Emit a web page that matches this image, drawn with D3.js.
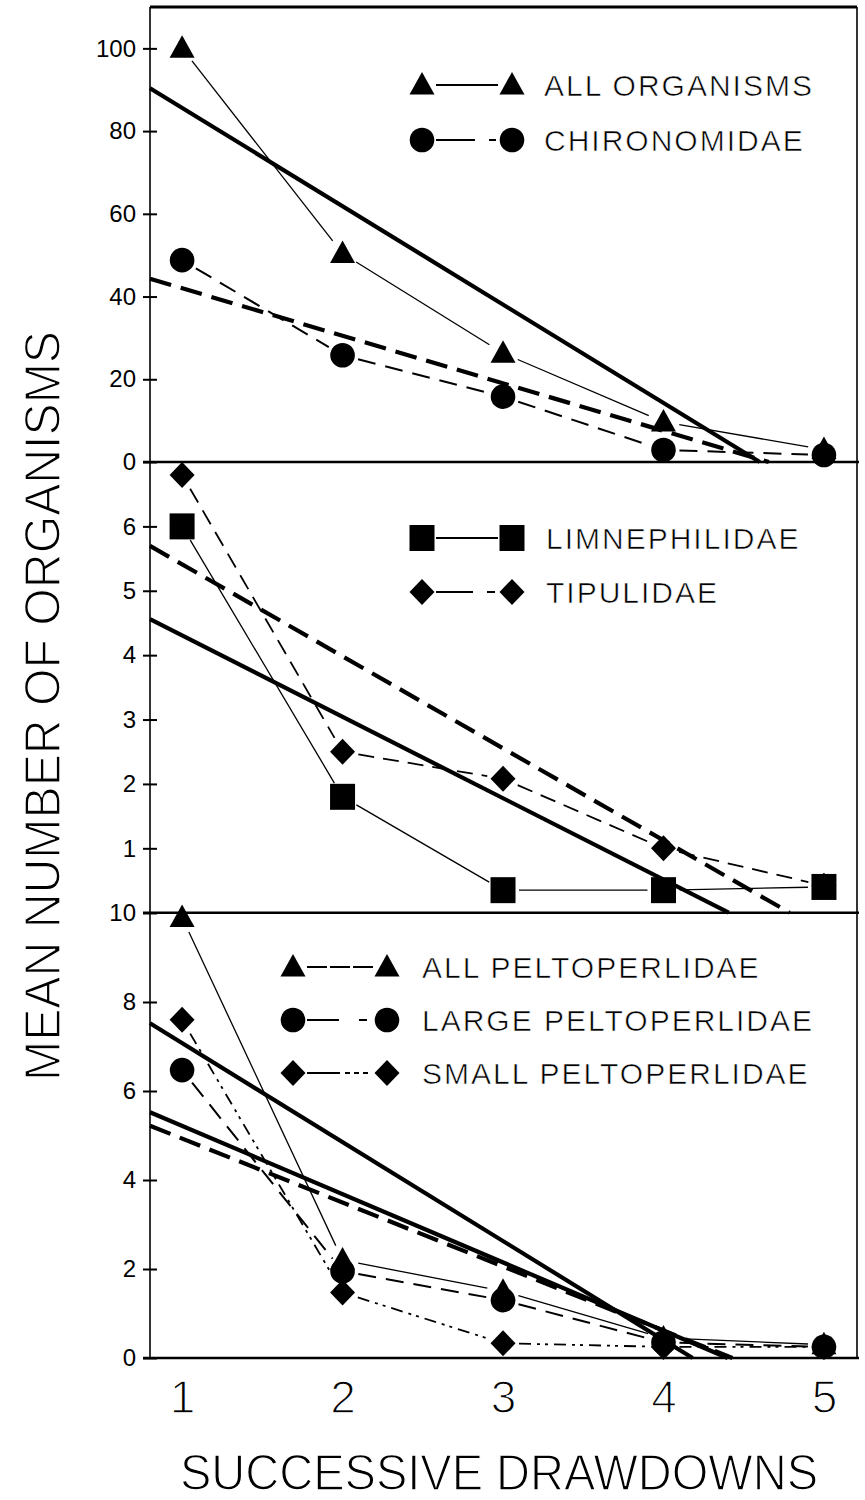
<!DOCTYPE html>
<html>
<head>
<meta charset="utf-8">
<script src="https://cdn.jsdelivr.net/npm/d3@7"></script>
<style>
  html, body { margin: 0; padding: 0; background: #fff; }
  svg { display: block; font-family: "Liberation Sans", Arial, sans-serif; }
</style>
</head>
<body>
<svg id="chart" width="865" height="1500"></svg>
<script>
// ---- data -------------------------------------------------------------
const drawdowns = [1, 2, 3, 4, 5];

// upper panel
const allOrganisms = [100, 50.4, 26.3, 9.7, 3.0];
const chironomidae = [48.8, 25.8, 15.8, 2.9, 1.7];
// middle panel
const limnephilidae = [6.0, 1.8, 0.35, 0.35, 0.4];
const tipulidae = [6.8, 2.5, 2.08, 1.0, 0.42];
// lower panel
const allPeltoperlidae = [9.9, 2.2, 1.5, 0.45, 0.3];
const largePeltoperlidae = [6.47, 1.95, 1.3, 0.35, 0.25];
const smallPeltoperlidae = [7.6, 1.47, 0.33, 0.25, 0.25];

// fitted decline lines: [intercept, slope]
const fitAllOrganisms = [109.4, -23.78];
const fitChironomidae = [53.5, -11.49];
const fitLimnephilidae = [5.57, -1.264];
const fitTipulidae = [6.84, -1.429];
const fitAllPeltoperlidae = [9.3, -2.224];
const fitSmallPeltoperlidae = [6.75, -1.534];
const fitLargePeltoperlidae = [6.37, -1.438];

// tick labels
const ticksUpper = [0, 20, 40, 60, 80, 100];
const ticksMiddle = [1, 2, 3, 4, 5, 6];
const ticksLower = [0, 2, 4, 6, 8, 10];
const xTicks = [1, 2, 3, 4, 5];

// ---- layout -------------------------------------------------------------
const svg = d3.select("#chart");
const frameLeft = 150, frameRight = 857, frameTop = 7;
const x = d3.scaleLinear().domain([0.80, 5.206]).range([frameLeft, frameRight]);

const yUpper = d3.scaleLinear().domain([0, 110]).range([462, frameTop]);
const yMiddle = d3.scaleLinear().domain([0, 7]).range([912.7, 462]);
const yLower = d3.scaleLinear().domain([0, 10]).range([1358, 913]);

// marker shapes centred on (0,0)
const shapes = {
  triangle: "M0,-13L12.5,9.5L-12.5,9.5Z",
  square: "M-12.5,-13L12.5,-13L12.5,13L-12.5,13Z",
  diamond: "M0,-13L12.5,0L0,13L-12.5,0Z",
  circle: d3.symbol(d3.symbolCircle, Math.PI * 12.3 * 12.3)()
};

const styles = {
  solid:   { width: 1.3, dash: null },
  dashed:  { width: 2.0, dash: "18,10" },
  dashed2: { width: 1.8, dash: "16,9" },
  dashDot: { width: 1.8, dash: "12,6,3,5,3,6" }
};

const panels = [
  {
    y: yUpper, ticks: ticksUpper,
    series: [
      { values: allOrganisms, shape: "triangle", line: "solid" },
      { values: chironomidae, shape: "circle", line: "dashed" }
    ],
    fits: [
      { coef: fitAllOrganisms, dash: null },
      { coef: fitChironomidae, dash: "22,10" }
    ],
    legend: {
      x1: 422, x2: 512, tx: 544, rows: [
        { y: 85, shape: "triangle", dash: null, label: "ALL ORGANISMS" },
        { y: 140, shape: "circle", dash: "39,14,7,40", label: "CHIRONOMIDAE" }
      ]
    }
  },
  {
    y: yMiddle, ticks: ticksMiddle,
    series: [
      { values: limnephilidae, shape: "square", line: "solid" },
      { values: tipulidae, shape: "diamond", line: "dashed2" }
    ],
    fits: [
      { coef: fitLimnephilidae, dash: null },
      { coef: fitTipulidae, dash: "22,10" }
    ],
    legend: {
      x1: 422, x2: 512, tx: 546, rows: [
        { y: 538, shape: "square", dash: null, label: "LIMNEPHILIDAE" },
        { y: 592, shape: "diamond", dash: "37,14,8,40", label: "TIPULIDAE" }
      ]
    }
  },
  {
    y: yLower, ticks: ticksLower,
    series: [
      { values: allPeltoperlidae, shape: "triangle", line: "solid" },
      { values: largePeltoperlidae, shape: "circle", line: "dashed" },
      { values: smallPeltoperlidae, shape: "diamond", line: "dashDot" }
    ],
    fits: [
      { coef: fitAllPeltoperlidae, dash: null },
      { coef: fitSmallPeltoperlidae, dash: null },
      { coef: fitLargePeltoperlidae, dash: "22,10" }
    ],
    legend: {
      x1: 293, x2: 387, tx: 422, rows: [
        { y: 967, shape: "triangle", dash: "20,3", label: "ALL PELTOPERLIDAE" },
        { y: 1020, shape: "circle", dash: "32,20,8,40", label: "LARGE PELTOPERLIDAE" },
        { y: 1073, shape: "diamond", dash: "33,5,5,4,5,4,5,40", label: "SMALL PELTOPERLIDAE" }
      ]
    }
  }
];

const gap = 16; // thin joining lines stop short of each marker

panels.forEach(p => {
  const g = svg.append("g");

  // fitted lines, drawn until they meet zero
  p.fits.forEach(f => {
    const [a, b] = f.coef;
    const x0 = x.domain()[0];
    const x1 = Math.min(x.domain()[1], -a / b);
    g.append("line")
      .attr("x1", x(x0)).attr("y1", p.y(a + b * x0))
      .attr("x2", x(x1)).attr("y2", p.y(a + b * x1))
      .attr("stroke", "#000").attr("stroke-width", 4.2)
      .attr("stroke-dasharray", f.dash);
  });

  // thin lines joining the means
  p.series.forEach(s => {
    const st = styles[s.line];
    const pts = drawdowns.map((d, i) => [x(d), p.y(s.values[i])]);
    d3.pairs(pts).forEach(([a, b]) => {
      const dx = b[0] - a[0], dy = b[1] - a[1];
      const len = Math.hypot(dx, dy);
      if (len <= 2 * gap) return;
      const ux = dx / len, uy = dy / len;
      g.append("line")
        .attr("x1", a[0] + ux * gap).attr("y1", a[1] + uy * gap)
        .attr("x2", b[0] - ux * gap).attr("y2", b[1] - uy * gap)
        .attr("stroke", "#000").attr("stroke-width", st.width)
        .attr("stroke-dasharray", st.dash);
    });
  });

  // markers
  p.series.forEach(s => {
    g.selectAll(null).data(s.values).join("path")
      .attr("d", shapes[s.shape])
      .attr("transform", (v, i) => `translate(${x(drawdowns[i])},${p.y(v)})`)
      .attr("fill", "#000");
  });

  // y axis ticks crossing the frame
  const ax = g.append("g").attr("transform", `translate(${frameLeft},0)`)
    .call(d3.axisLeft(p.y).tickValues(p.ticks).tickSize(7).tickPadding(7)
      .tickFormat(d3.format("d")));
  ax.select(".domain").remove();
  ax.selectAll(".tick line").attr("x2", -7).attr("x1", 7)
    .attr("stroke", "#000").attr("stroke-width", 2);
  ax.selectAll(".tick text").attr("font-size", 24).attr("fill", "#000")
    .attr("font-family", "Liberation Sans, Arial, sans-serif");

  // legend
  const lg = p.legend;
  lg.rows.forEach(r => {
    const row = g.append("g");
    row.append("line")
      .attr("x1", lg.x1 + 14).attr("x2", lg.x2 - 14)
      .attr("y1", r.y).attr("y2", r.y)
      .attr("stroke", "#000").attr("stroke-width", 2.2)
      .attr("stroke-dasharray", r.dash);
    [lg.x1, lg.x2].forEach(cx => {
      row.append("path").attr("d", shapes[r.shape])
        .attr("transform", `translate(${cx},${r.y})`).attr("fill", "#000");
    });
    row.append("text")
      .attr("x", lg.tx).attr("y", r.y).attr("dy", "0.36em")
      .attr("font-size", 30).attr("letter-spacing", 2)
      .attr("stroke", "#fff").attr("stroke-width", 0.6)
      .attr("fill", "#000").text(r.label);
  });
});

// ---- frame --------------------------------------------------------------
const frame = svg.append("g").attr("stroke", "#000").attr("fill", "none");
frame.append("line").attr("x1", frameLeft).attr("x2", frameRight)
  .attr("y1", frameTop).attr("y2", frameTop).attr("stroke-width", 3);
frame.append("line").attr("x1", frameLeft).attr("x2", frameLeft)
  .attr("y1", frameTop).attr("y2", yLower(0)).attr("stroke-width", 1.6);
frame.append("line").attr("x1", frameRight).attr("x2", frameRight)
  .attr("y1", frameTop).attr("y2", yLower(0)).attr("stroke-width", 1.6);
[yUpper(0), yMiddle(0), yLower(0)].forEach(yy => {
  frame.append("line").attr("x1", frameLeft - 7).attr("x2", frameRight + 2)
    .attr("y1", yy).attr("y2", yy).attr("stroke-width", 2.6);
});

// x axis labels
const xa = svg.append("g").attr("transform", `translate(0,${yLower(0)})`)
  .call(d3.axisBottom(x).tickValues(xTicks).tickSize(0).tickPadding(22)
    .tickFormat(d3.format("d")));
xa.select(".domain").remove();
xa.selectAll(".tick text").attr("font-size", 46).attr("fill", "#000")
  .attr("font-family", "Liberation Sans, Arial, sans-serif")
  .attr("stroke", "#fff").attr("stroke-width", 1.4);

// axis titles
svg.append("text")
  .attr("x", (x(1) + x(5)) / 2 - 4).attr("y", 1490)
  .attr("text-anchor", "middle").attr("font-size", 50)
  .attr("textLength", 638).attr("lengthAdjust", "spacingAndGlyphs")
  .attr("stroke", "#fff").attr("stroke-width", 1.4)
  .attr("fill", "#000").text("SUCCESSIVE DRAWDOWNS");

svg.append("text")
  .attr("transform", "translate(60,706) rotate(-90)")
  .attr("text-anchor", "middle").attr("font-size", 50)
  .attr("textLength", 750).attr("lengthAdjust", "spacingAndGlyphs")
  .attr("stroke", "#fff").attr("stroke-width", 1.4)
  .attr("fill", "#000").text("MEAN NUMBER OF ORGANISMS");
</script>
</body>
</html>
